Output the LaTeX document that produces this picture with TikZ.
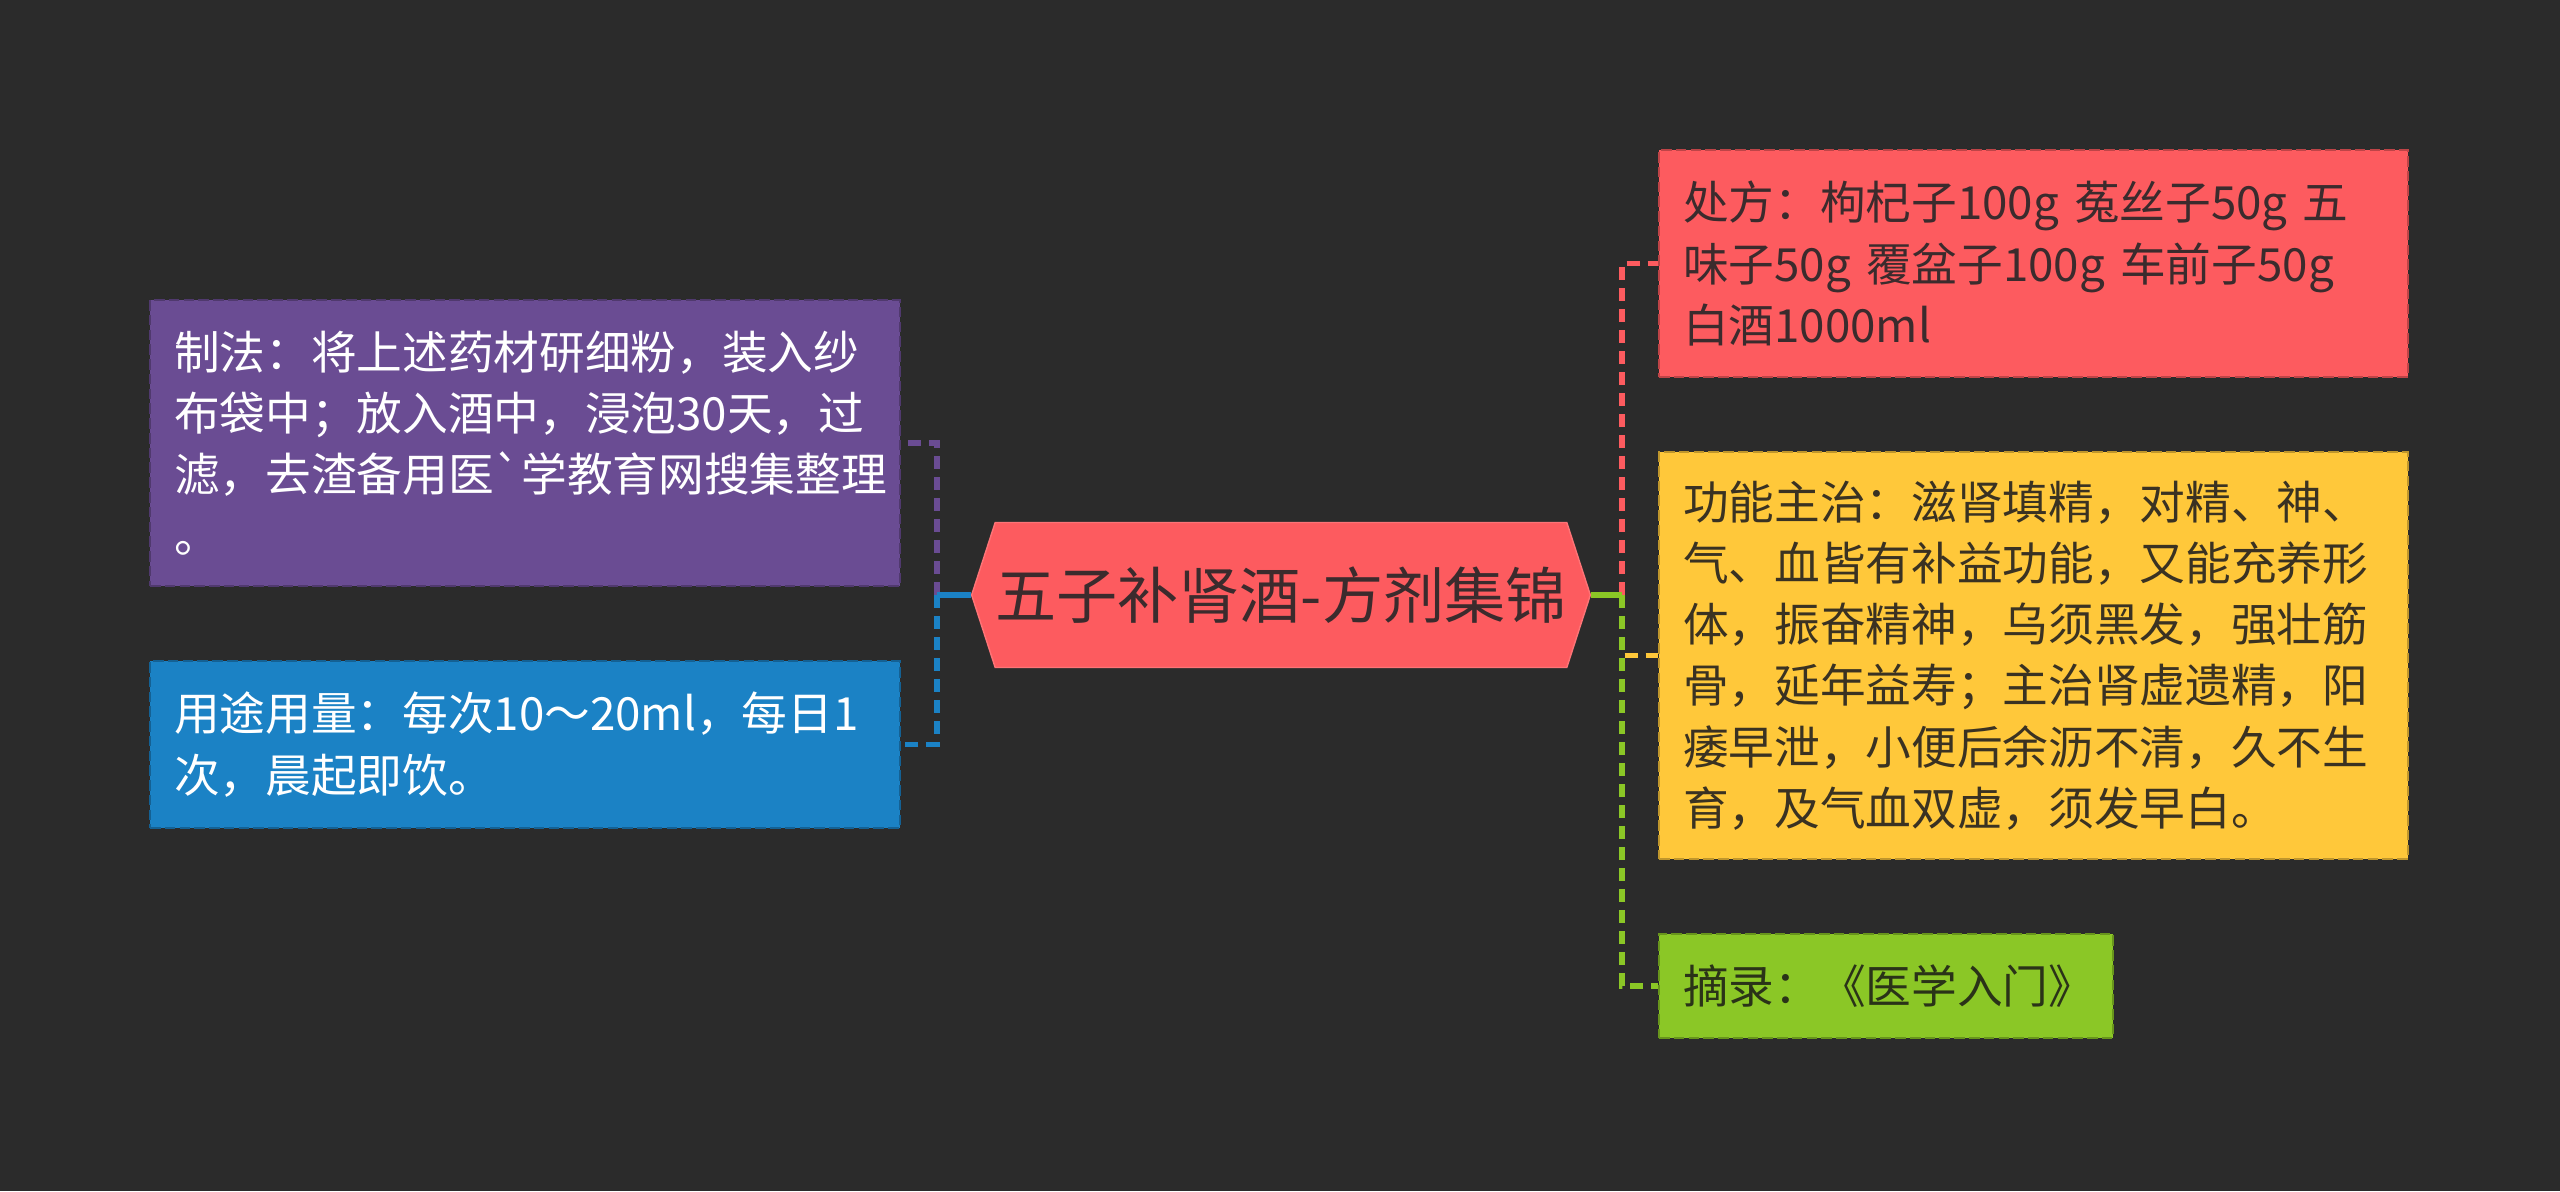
\documentclass[tikz,border=0pt]{standalone}
\usepackage{fontspec}
\usepackage{tikz}
\usetikzlibrary{shapes.symbols, positioning, calc}
\newfontfamily\cjkfont{Noto Sans CJK SC}
\definecolor{bgDark}{HTML}{2B2B2B}
\definecolor{hubRed}{HTML}{FD5B5F}
\definecolor{inkDark}{HTML}{3B2B2D}
\definecolor{inkOlive}{HTML}{3A3222}
\definecolor{inkMoss}{HTML}{2A3318}
\definecolor{leafPurple}{HTML}{6A4C93}
\definecolor{leafBlue}{HTML}{1B82C5}
\definecolor{leafRed}{HTML}{FD5B5F}
\definecolor{leafYellow}{HTML}{FFC83A}
\definecolor{leafGreen}{HTML}{8BC726}
\tikzset{
    hub_hex/.style={
        signal, signal to=west and east, signal pointer angle=144,
        fill=hubRed, draw=hubRed!85!white, line width=0.4pt,
        minimum width=6.05cm, minimum height=1.45cm, inner sep=0pt,
        font=\cjkfont\fontsize{17.4}{20}\selectfont, text=inkDark
    },
    leaf_base/.style={
        rectangle, line width=0.6pt, dash pattern=on 3pt off 1.2pt,
        inner xsep=0.24cm, inner ysep=0.15cm, align=left,
        font=\cjkfont\fontsize{13}{17.4}\selectfont
    },
    leaf_wide_purple/.style={
        leaf_base, fill=leafPurple, draw=leafPurple!75!black, text=white,
        minimum width=7.5cm, minimum height=2.86cm, text width=7.02cm
    },
    leaf_wide_blue/.style={
        leaf_base, fill=leafBlue, draw=leafBlue!75!black, text=white,
        minimum width=7.5cm, minimum height=1.67cm, text width=7.02cm
    },
    leaf_wide_red/.style={
        leaf_base, fill=leafRed, draw=leafRed!75!black, text=inkDark,
        minimum width=7.49cm, minimum height=2.27cm, text width=7.01cm
    },
    leaf_wide_yellow/.style={
        leaf_base, fill=leafYellow, draw=leafYellow!75!black, text=inkOlive,
        minimum width=7.49cm, minimum height=4.07cm, text width=7.01cm
    },
    leaf_small_green/.style={
        leaf_base, fill=leafGreen, draw=leafGreen!75!black, text=inkMoss,
        minimum width=4.54cm, minimum height=1.04cm, text width=4.06cm
    },
    link_solid/.style={line width=1.5pt},
    link_dash/.style={line width=1.5pt, dash pattern=on 0.13cm off 0.08cm}
}

\begin{document}
\begin{tikzpicture}

    % Canvas
    \fill[bgDark] (0,0) rectangle (25.6,11.91);
    \useasboundingbox (0,0) rectangle (25.6,11.91);

    % Root: central hexagon
    \node[hub_hex] (hub) at (12.81, 5.96) {五子补肾酒-方剂集锦};

    % Left branch
    \node[leaf_wide_purple] (making) at (5.25, 7.48) {
        制法：将上述药材研细粉，装入纱\\
        布袋中；放入酒中，浸泡30天，过\\
        滤，去渣备用医`学教育网搜集整理\\
        。
    };
    \node[leaf_wide_blue] (dosage) at (5.25, 4.465) {
        用途用量：每次10～20ml，每日1\\
        次，晨起即饮。
    };

    % Right branch
    \node[leaf_wide_red] (recipe) at (20.335, 9.275) {
        处方：枸杞子100g 菟丝子50g 五\\
        味子50g 覆盆子100g 车前子50g\\
        白酒1000ml
    };
    \node[leaf_wide_yellow] (effect) at (20.335, 5.355) {
        功能主治：滋肾填精，对精、神、\\
        气、血皆有补益功能，又能充养形\\
        体，振奋精神，乌须黑发，强壮筋\\
        骨，延年益寿；主治肾虚遗精，阳\\
        痿早泄，小便后余沥不清，久不生\\
        育，及气血双虚，须发早白。
    };
    \node[leaf_small_green] (source) at (18.86, 2.05) {摘录：《医学入门》};

    % Split points
    \coordinate (lsplit) at ($(hub.west)+(-0.34,0)$);
    \coordinate (rsplit) at ($(hub.east)+(0.31,0)$);

    % Left connectors
    \draw[link_dash, leafPurple] (lsplit) |- (making.east);
    \draw[link_dash, leafBlue] (lsplit) |- (dosage.east);
    \draw[link_solid, leafBlue] (hub.west) -- (lsplit);

    % Right connectors
    \draw[link_dash, leafRed] (rsplit) |- (recipe.west);
    \draw[link_dash, leafYellow] (rsplit) |- (effect.west);
    \draw[link_dash, leafGreen] (rsplit) |- (source.west);
    \draw[link_solid, leafGreen] (hub.east) -- (rsplit);

\end{tikzpicture}
\end{document}
